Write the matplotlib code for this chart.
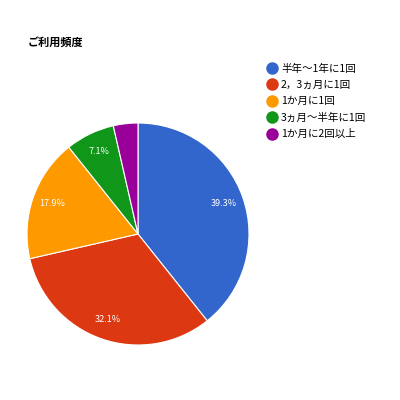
import matplotlib
matplotlib.use("Agg")
import matplotlib.pyplot as plt
from matplotlib.lines import Line2D

plt.rcParams['font.family'] = ['Noto Sans CJK JP', 'DejaVu Sans']

title = "ご利用頻度"
labels = ["半年〜1年に1回", "2，3ヵ月に1回", "1か月に1回", "3ヵ月〜半年に1回", "1か月に2回以上"]
counts = [11, 9, 5, 2, 1]
colors = ["#3366cc", "#dc3912", "#ff9900", "#109618", "#990099"]


def pct_label(p):
    # google hides labels on very thin slices
    return f"{p:.1f}%" if p >= 5 else ""


fig = plt.figure(figsize=(4, 4), dpi=100)
ax = fig.add_axes([0.0675, 0.1375, 0.555, 0.555])
wedges, texts, autotexts = ax.pie(
    counts, colors=colors, startangle=90, counterclock=False,
    autopct=pct_label, pctdistance=0.82,
    wedgeprops=dict(edgecolor="white", linewidth=0.8),
    textprops=dict(color="white", fontsize=6.5),
)
ax.set_xlim(-1, 1)
ax.set_ylim(-1, 1)
ax.set_aspect("equal")

fig.text(0.07, 0.895, title, fontsize=8, fontweight="bold", ha="left", va="center")

handles = [Line2D([], [], marker="o", linestyle="", markersize=8,
                  markerfacecolor=c, markeredgecolor=c) for c in colors]
fig.legend(handles, labels, loc="upper left", bbox_to_anchor=(0.655, 0.852),
           frameon=False, fontsize=7.6, handletextpad=0.4, labelspacing=0.6,
           borderaxespad=0, handlelength=1.0)

fig.savefig("out.png", dpi=100)
